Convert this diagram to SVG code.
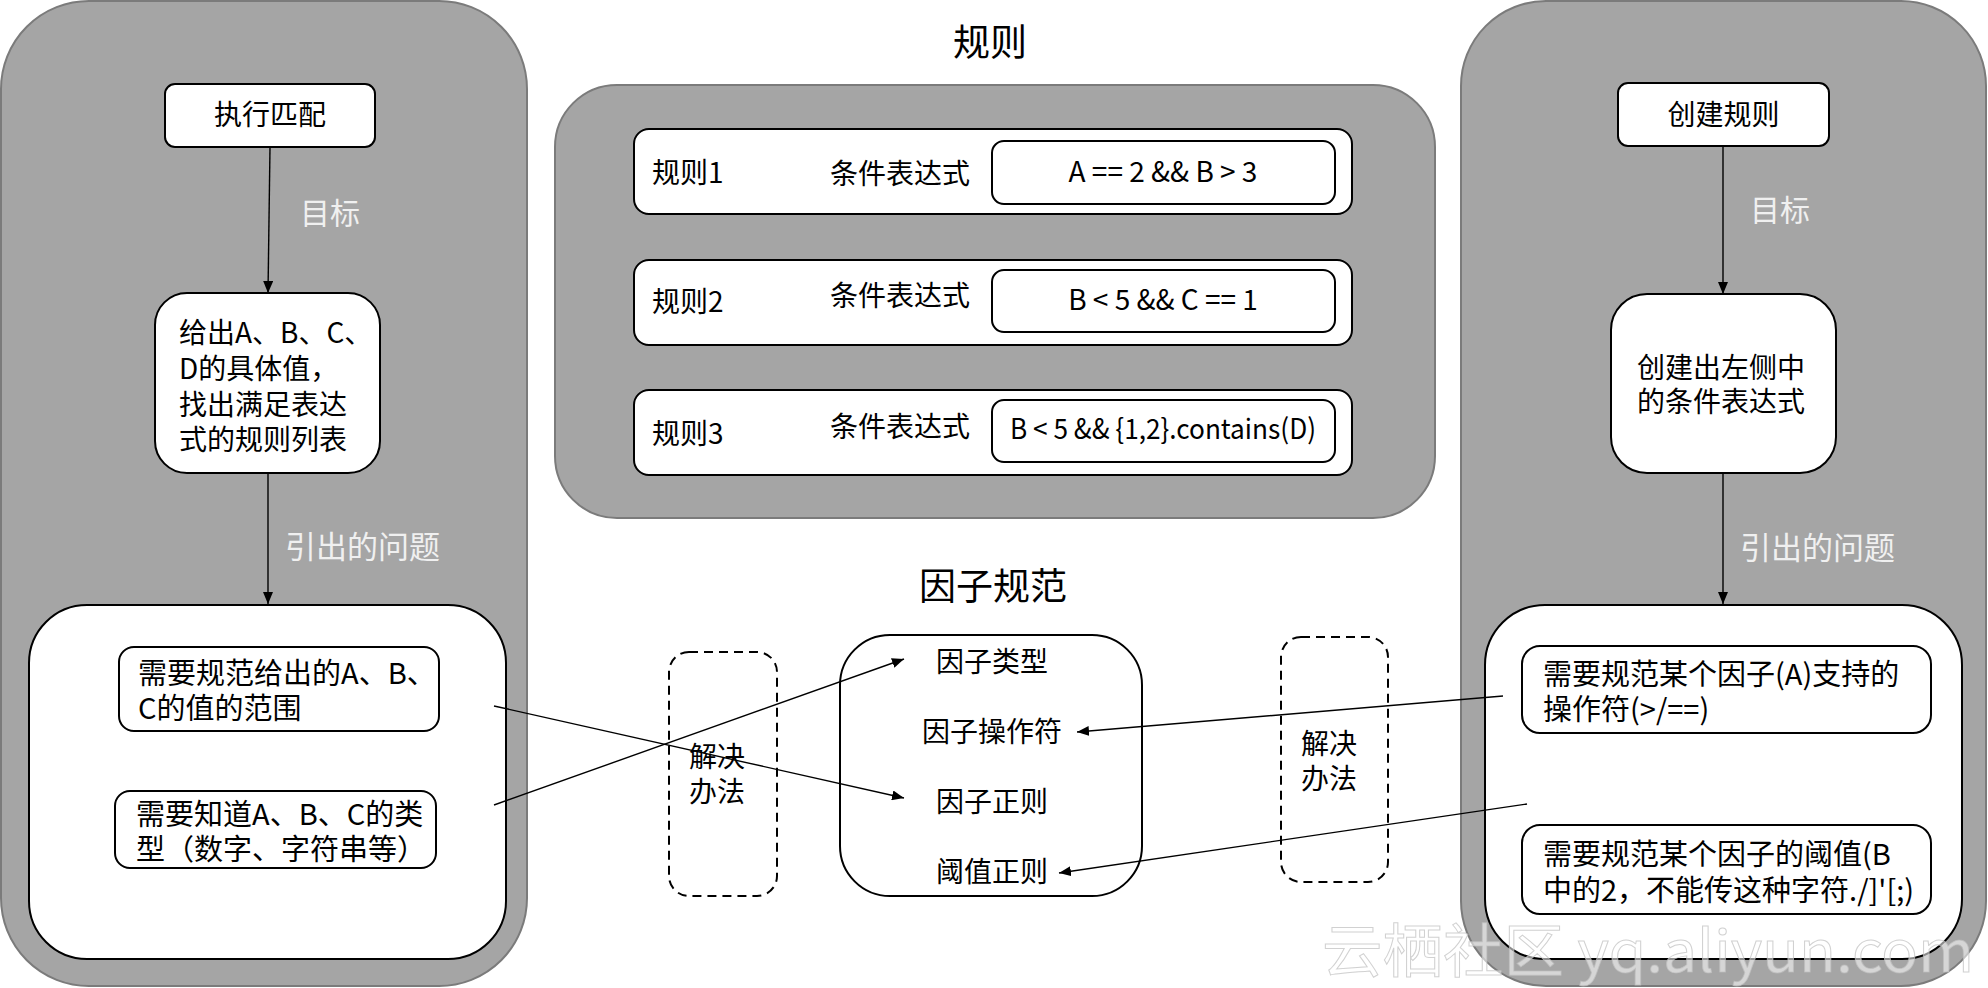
<svg xmlns="http://www.w3.org/2000/svg" width="1988" height="988" viewBox="0 0 1988 988">
<defs>
<marker id="arr" viewBox="0 0 12 10" refX="12" refY="5" markerWidth="12" markerHeight="10" markerUnits="userSpaceOnUse" orient="auto">
<path d="M0,0 L12,5 L0,10 Z" fill="#000"/>
</marker>
<style>
text{font-family:"Noto Sans CJK SC","Noto Sans",sans-serif;fill:#000}
.panel{fill:#a5a5a5;stroke:#7b7b7b;stroke-width:2}
.box{fill:#fff;stroke:#000;stroke-width:2}
.dash{fill:none;stroke:#000;stroke-width:2;stroke-dasharray:9 6}
.t28{font-size:28px}
.t29{font-size:29px}
.title{font-size:37px}
.lbl{font-size:30px;fill:#f0f0f0}
.lbl2{font-size:31px;fill:#f0f0f0}
.mid{text-anchor:middle}
.con{stroke:#000;stroke-width:1.4;fill:none;marker-end:url(#arr)}
.wm{font-size:58px;fill:#fff;fill-opacity:0.55;stroke:#bdbdbd;stroke-width:1;stroke-opacity:0.7}
</style>
</defs>
<rect width="1988" height="988" fill="#fff"/>

<g id="left-panel">
<rect class="panel" x="1" y="1" width="526" height="985" rx="88"/>
</g>
<g id="exec-match">
<rect class="box" x="165" y="84" width="210" height="63" rx="10"/>
<text class="t28 mid" x="270" y="125">执行匹配</text>
</g>
<g id="give-values">
<rect class="box" x="155" y="293" width="225" height="180" rx="32"/>
<text class="t28"><tspan x="179" y="343">给出A、B、C、</tspan><tspan x="179" y="378.5">D的具体值，</tspan><tspan x="179" y="414.5">找出满足表达</tspan><tspan x="179" y="449.5">式的规则列表</tspan></text>
</g>
<g id="left-problems">
<rect class="box" x="29" y="605" width="477" height="354" rx="58"/>
</g>
<g id="left-prob1">
<rect class="box" x="119" y="647" width="320" height="84" rx="15"/>
<text class="t29"><tspan x="138" y="683.5">需要规范给出的A、B、</tspan><tspan x="138" y="718.5">C的值的范围</tspan></text>
</g>
<g id="left-prob2">
<rect class="box" x="115" y="791" width="321" height="77" rx="15"/>
<text class="t29"><tspan x="136" y="824.5">需要知道A、B、C的类</tspan><tspan x="136" y="859.5">型（数字、字符串等）</tspan></text>
</g>

<g id="rules-title"><text class="title mid" x="990" y="56">规则</text></g>
<g id="rules-panel">
<rect class="panel" x="555" y="85" width="880" height="433" rx="62"/>
</g>
<g id="rule1">
<rect class="box" x="634" y="129" width="718" height="85" rx="15"/>
<text class="t28" x="652" y="183">规则1</text>
<text class="t28" x="830" y="184">条件表达式</text>
<rect class="box" x="992" y="141" width="343" height="63" rx="12"/>
<text class="t28 mid" x="1163" y="182">A == 2 &amp;&amp; B &gt; 3</text>
</g>
<g id="rule2">
<rect class="box" x="634" y="260" width="718" height="85" rx="15"/>
<text class="t28" x="652" y="312">规则2</text>
<text class="t28" x="830" y="306">条件表达式</text>
<rect class="box" x="992" y="270" width="343" height="62" rx="12"/>
<text class="t28 mid" x="1163" y="310">B &lt; 5 &amp;&amp; C == 1</text>
</g>
<g id="rule3">
<rect class="box" x="634" y="390" width="718" height="85" rx="15"/>
<text class="t28" x="652" y="443.5">规则3</text>
<text class="t28" x="830" y="437">条件表达式</text>
<rect class="box" x="992" y="400" width="343" height="62" rx="12"/>
<text class="t28 mid" x="1163" y="439" textLength="306" lengthAdjust="spacingAndGlyphs">B &lt; 5 &amp;&amp; {1,2}.contains(D)</text>
</g>

<g id="factor-title"><text class="title mid" x="993" y="599.5">因子规范</text></g>
<g id="factor-spec">
<rect class="box" x="840" y="635" width="302" height="261" rx="50"/>
<text class="t28 mid" x="992" y="672">因子类型</text>
<text class="t28 mid" x="992" y="742">因子操作符</text>
<text class="t28 mid" x="992" y="812">因子正则</text>
<text class="t28 mid" x="992" y="882">阈值正则</text>
</g>
<g id="solution-left">
<rect class="dash" x="669" y="652" width="108" height="244" rx="20"/>
<text class="t28"><tspan x="689" y="767">解决</tspan><tspan x="689" y="802">办法</tspan></text>
</g>
<g id="solution-right">
<rect class="dash" x="1281" y="637" width="107" height="245" rx="20"/>
<text class="t28"><tspan x="1301" y="754">解决</tspan><tspan x="1301" y="788.5">办法</tspan></text>
</g>

<g id="right-panel">
<rect class="panel" x="1461" y="1" width="525" height="985" rx="85"/>
</g>
<g id="create-rule">
<rect class="box" x="1618" y="83" width="211" height="63" rx="10"/>
<text class="t28 mid" x="1723.5" y="125">创建规则</text>
</g>
<g id="create-expr">
<rect class="box" x="1611" y="294" width="225" height="179" rx="36"/>
<text class="t28 mid"><tspan x="1721" y="377.5">创建出左侧中</tspan><tspan x="1721" y="412">的条件表达式</tspan></text>
</g>
<g id="right-problems">
<rect class="box" x="1485" y="605" width="477" height="354" rx="60"/>
</g>
<g id="right-prob1">
<rect class="box" x="1522" y="646" width="409" height="87" rx="18"/>
<text class="t29"><tspan x="1543" y="684.5">需要规范某个因子(A)支持的</tspan><tspan x="1543" y="719.5">操作符(&gt;/==)</tspan></text>
</g>
<g id="right-prob2">
<rect class="box" x="1522" y="825" width="409" height="89" rx="18"/>
<text class="t29"><tspan x="1543" y="864.5">需要规范某个因子的阈值(B</tspan><tspan x="1543" y="900.5">中的2，不能传这种字符./]'[;)</tspan></text>
</g>

<g id="labels">
<text class="lbl" x="300" y="223.5">目标</text>
<text class="lbl2" x="285" y="557.5">引出的问题</text>
<text class="lbl" x="1750" y="220.5">目标</text>
<text class="lbl2" x="1740" y="559">引出的问题</text>
</g>

<g id="connectors">
<line class="con" x1="270" y1="147" x2="268" y2="293"/>
<line class="con" x1="268" y1="473" x2="268" y2="604"/>
<line class="con" x1="1723" y1="146" x2="1723" y2="294"/>
<line class="con" x1="1723" y1="473" x2="1723" y2="604"/>
<line class="con" x1="494" y1="706" x2="904" y2="798"/>
<line class="con" x1="494" y1="805" x2="904" y2="659"/>
<line class="con" x1="1503" y1="696" x2="1077" y2="732"/>
<line class="con" x1="1527" y1="804" x2="1059" y2="873"/>
</g>

<g id="watermark">
<text class="wm" x="1322" y="972" textLength="652" lengthAdjust="spacingAndGlyphs">云栖社区 yq.aliyun.com</text>
</g>
</svg>
